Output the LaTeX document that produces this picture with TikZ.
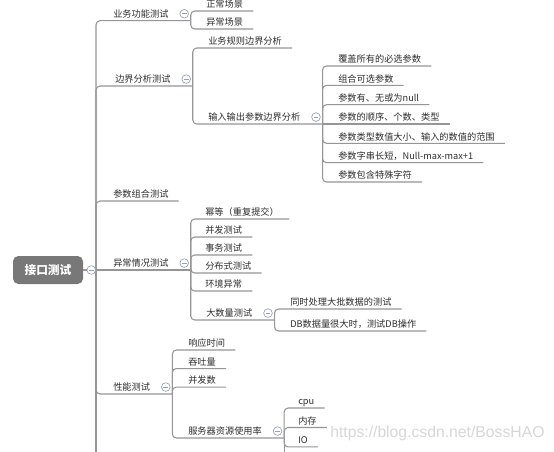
\documentclass[tikz,border=0pt]{standalone}
\usepackage{fontspec}
\newfontfamily\cjk{Noto Sans CJK SC}
\newfontfamily\wmfont{Liberation Sans}
\usetikzlibrary{positioning}
\definecolor{linec}{RGB}{150,150,150}
\definecolor{txtc}{RGB}{45,45,45}
\definecolor{rootc}{RGB}{120,120,120}
\definecolor{foldc}{RGB}{150,160,180}
\definecolor{wmc}{RGB}{215,215,215}

\begin{document}
\begin{tikzpicture}[
  x=0.75pt, y=-0.75pt,
  topic/.style={anchor=south west, inner ysep=2.3pt, text height=6.4pt, text depth=0pt, text=txtc, font=\cjk\fontsize{6.9pt}{8pt}\selectfont},
  leaf/.style={topic, inner xsep=7.5pt},
  branch/.style={topic, inner xsep=16.5pt},
  rootbox/.style={fill=rootc, rounded corners=4pt, minimum width=52.5pt, minimum height=21pt, text=white, font=\cjk\bfseries\fontsize{8.8pt}{10pt}\selectfont},
  fold/.style={circle, draw=foldc, fill=white, line width=0.5pt, minimum size=6.5pt, inner sep=0pt,
    path picture={\draw[foldc, line width=0.5pt] ([xshift=-1.8pt]path picture bounding box.center) -- ([xshift=1.8pt]path picture bounding box.center);}},
  link/.style={draw=linec, line width=0.8pt, rounded corners=3pt}
]
\useasboundingbox (0,0) rectangle (554,451);
\fill[white] (0,0) rectangle (554,451);
\clip (0,0) rectangle (554,451);

% root
\node[rootbox] (root) at (48,270) {接口测试};
\coordinate (trunk) at (96,270);
\coordinate (trunkend) at (96,470);

% first level
\node[branch] (func) at (91,20.7) {业务功能测试};
\node[branch] (bound) at (93,86) {边界分析测试};
\node[leaf] (combo) at (103,201) {参数组合测试};
\node[branch] (abn) at (91,270) {异常情况测试};
\node[branch] (perf) at (91,394) {性能测试};

% 业务功能测试
\node[leaf] (func1) at (196,11) {正常场景};
\node[below=13.5pt of func1.south west, leaf] (func2) {异常场景};

% 边界分析测试
\node[leaf] (bound1) at (198,48) {业务规则边界分析};
\node[branch] (bound2) at (186,124) {输入输出参数边界分析};
\node[leaf] (par1) at (328,66) {覆盖所有的必选参数};
\node[below=14.5pt of par1.south west, leaf] (par2) {组合可选参数};
\node[below=14.5pt of par2.south west, leaf] (par3) {参数有、无或为null};
\node[below=14.5pt of par3.south west, leaf] (par4) {参数的顺序、个数、类型};
\node[below=14.5pt of par4.south west, leaf] (par5) {参数类型数值大小、输入的数值的范围};
\node[below=14.5pt of par5.south west, leaf] (par6) {参数字串长短，Null-max-max+1};
\node[below=14.5pt of par6.south west, leaf] (par7) {参数包含特殊字符};

% 异常情况测试
\node[leaf] (abn1) at (195,219) {幂等（重复提交）};
\node[below=13.5pt of abn1.south west, leaf] (abn2) {并发测试};
\node[below=13.5pt of abn2.south west, leaf] (abn3) {事务测试};
\node[below=13.5pt of abn3.south west, leaf] (abn4) {分布式测试};
\node[below=13.5pt of abn4.south west, leaf] (abn5) {环境异常};
\node[branch] (bulk) at (184,320) {大数量测试};
\node[leaf] (bulk1) at (280,309) {同时处理大批数据的测试};
\node[below=16.5pt of bulk1.south west, leaf] (bulk2) {DB数据量很大时，测试DB操作};

% 性能测试
\node[leaf] (perf1) at (178,350) {响应时间};
\node[below=13.9pt of perf1.south west, leaf] (perf2) {吞吐量};
\node[below=13.9pt of perf2.south west, leaf] (perf3) {并发数};
\node[branch] (res) at (166,438) {服务器资源使用率};
\node[leaf] (res1) at (288,408) {cpu};
\node[below=14.6pt of res1.south west, leaf] (res2) {内存};
\node[below=14.6pt of res2.south west, leaf] (res3) {IO};
\coordinate (resend) at (res.south east |- trunkend);

% connectors
\draw[link] (root) -- (trunk);
\draw[link] (trunk) -- (trunkend);
\draw[link] (trunk) |- (func.south east);
\draw[link] (trunk) |- (bound.south east);
\draw[link] (trunk) |- (combo.south east);
\draw[link] (trunk) -- (abn.south east);
\draw[link] (trunk) |- (perf.south east);

\draw[link] (func.south east) |- (func1.south east);
\draw[link] (func.south east) |- (func2.south east);

\draw[link] (bound.south east) |- (bound1.south east);
\draw[link] (bound.south east) |- (bound2.south east);
\draw[link] (bound2.south east) |- (par1.south east);
\draw[link] (bound2.south east) |- (par2.south east);
\draw[link] (bound2.south east) |- (par3.south east);
\draw[link] (bound2.south east) -- (par4.south east);
\draw[link] (bound2.south east) |- (par5.south east);
\draw[link] (bound2.south east) |- (par6.south east);
\draw[link] (bound2.south east) |- (par7.south east);

\draw[link] (abn.south east) |- (abn1.south east);
\draw[link] (abn.south east) |- (abn2.south east);
\draw[link] (abn.south east) |- (abn3.south east);
\draw[link] (abn.south east) |- (abn4.south east);
\draw[link] (abn.south east) |- (abn5.south east);
\draw[link] (abn.south east) |- (bulk.south east);
\draw[link] (bulk.south east) |- (bulk1.south east);
\draw[link] (bulk.south east) |- (bulk2.south east);

\draw[link] (perf.south east) |- (perf1.south east);
\draw[link] (perf.south east) |- (perf2.south east);
\draw[link] (perf.south east) |- (perf3.south east);
\draw[link] (perf.south east) |- (res.south east);
\draw[link] (res.south east) |- (res1.south east);
\draw[link] (res.south east) |- (res2.south east);
\draw[link] (res.south east) |- (res3.south east);
\draw[link] (res.south east) -- (resend);

% fold markers
\node[fold, right=2.5pt of root] (rootfold) {};
\node[fold] (funcfold) at ([xshift=-4.9pt, yshift=5.2pt]func.south east) {};
\node[fold] (boundfold) at ([xshift=-4.9pt, yshift=5.2pt]bound.south east) {};
\node[fold] (bound2fold) at ([xshift=-4.9pt, yshift=5.2pt]bound2.south east) {};
\node[fold] (abnfold) at ([xshift=-4.9pt, yshift=5.2pt]abn.south east) {};
\node[fold] (bulkfold) at ([xshift=-4.9pt, yshift=5.2pt]bulk.south east) {};
\node[fold] (perffold) at ([xshift=-4.9pt, yshift=5.2pt]perf.south east) {};
\node[fold] (resfold) at ([xshift=-4.9pt, yshift=5.2pt]res.south east) {};

% watermark
\node[anchor=west, inner sep=0pt, text=wmc, font=\wmfont\fontsize{11.8pt}{13pt}\selectfont] (mark) at (330,433) {https://blog.csdn.net/BossHAO};
\end{tikzpicture}
\end{document}
